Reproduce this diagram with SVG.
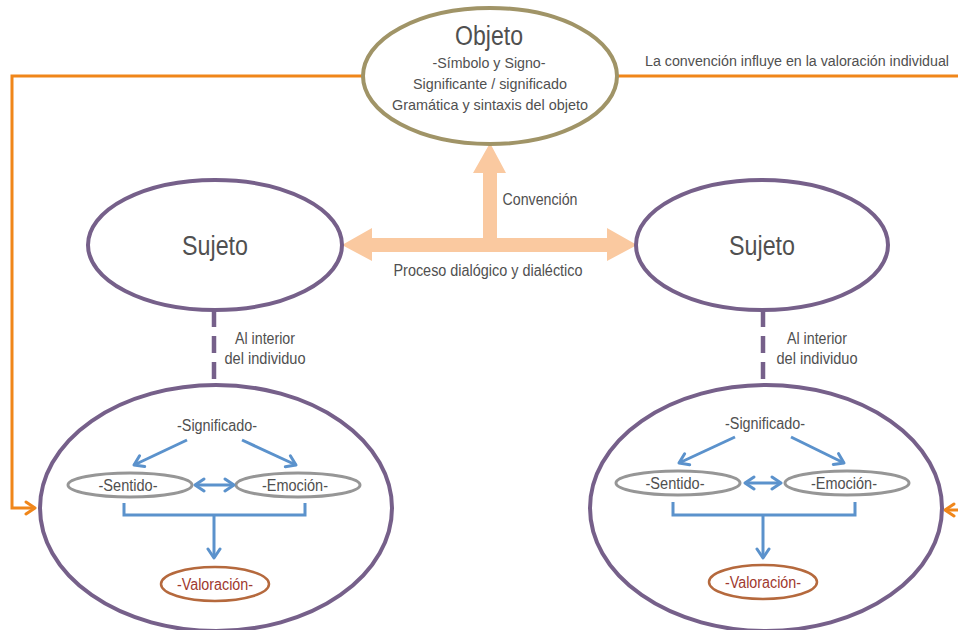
<svg xmlns="http://www.w3.org/2000/svg" width="958" height="630" viewBox="0 0 958 630">
  <style>
    text { font-family: "Liberation Sans", Arial, sans-serif; fill: #505050; text-anchor: middle; }
    .objeto { fill: #fff; stroke: #A09467; stroke-width: 4; }
    .sujeto { fill: #fff; stroke: #76608A; stroke-width: 4; }
    .sub { fill: #fff; stroke: #969696; stroke-width: 3; }
    .val { fill: #fff; stroke: #B5693D; stroke-width: 2.5; }
    .blue { fill: none; stroke: #5B92CC; stroke-width: 3; }
    .orange { fill: none; stroke: #F0861A; stroke-width: 3; }
    .dash { fill: none; stroke: #76608A; stroke-width: 4.5; stroke-dasharray: 17 9; }
    .peach { fill: #FAC9A0; }
    .t14 { font-size: 15px; }
    .t16 { font-size: 16px; }
    .big { font-size: 27px; }
  </style>
  <defs>
    <marker id="arrowBlue" markerUnits="userSpaceOnUse" markerWidth="14" markerHeight="16" refX="11" refY="8" orient="auto-start-reverse" viewBox="0 0 14 16">
      <path d="M2,2 L11,8 L2,14" fill="none" stroke="#5B92CC" stroke-width="3" stroke-linecap="round" stroke-linejoin="round"/>
    </marker>
    <marker id="arrowOrange" markerUnits="userSpaceOnUse" markerWidth="14" markerHeight="16" refX="11" refY="8" orient="auto" viewBox="0 0 14 16">
      <path d="M2,2 L11,8 L2,14" fill="none" stroke="#F0861A" stroke-width="3" stroke-linecap="round" stroke-linejoin="round"/>
    </marker>
  </defs>

  <!-- connectors -->
  <g id="connectors">
    <path class="orange" d="M362,76 H12 V508 H35" marker-end="url(#arrowOrange)"/>
    <path class="orange" d="M618,76 H960"/>
    <path class="orange" d="M960,510 H945" marker-end="url(#arrowOrange)"/>
    <polygon class="peach" points="342,245 372,228 372,238 483,238 483,173 473,173 490,143 506,173 497,173 497,238 607,238 607,228 637,245 607,261 607,252 372,252 372,261"/>
    <line class="dash" x1="214" y1="310" x2="214" y2="388"/>
    <line class="dash" x1="763" y1="310" x2="763" y2="388"/>
  </g>

  <!-- labels on connectors -->
  <text class="t16" x="540" y="205" textLength="75" lengthAdjust="spacingAndGlyphs">Convención</text>
  <text class="t16" x="488" y="276" textLength="189" lengthAdjust="spacingAndGlyphs">Proceso dialógico y dialéctico</text>
  <text x="797" y="66" font-size="14" textLength="304" lengthAdjust="spacingAndGlyphs">La convención influye en la valoración individual</text>
  <text class="t16" x="265" y="344" textLength="60" lengthAdjust="spacingAndGlyphs">Al interior</text>
  <text class="t16" x="265" y="364" textLength="81" lengthAdjust="spacingAndGlyphs">del individuo</text>
  <text class="t16" x="817" y="344" textLength="60" lengthAdjust="spacingAndGlyphs">Al interior</text>
  <text class="t16" x="817" y="364" textLength="81" lengthAdjust="spacingAndGlyphs">del individuo</text>

  <g id="objeto">
    <ellipse class="objeto" cx="490" cy="76" rx="127" ry="68"/>
    <text class="big" x="489" y="45" textLength="68" lengthAdjust="spacingAndGlyphs">Objeto</text>
    <text class="t14" x="489" y="68" textLength="113" lengthAdjust="spacingAndGlyphs">-Símbolo y Signo-</text>
    <text class="t14" x="490" y="89" textLength="154" lengthAdjust="spacingAndGlyphs">Significante / significado</text>
    <text class="t14" x="490" y="110" textLength="196" lengthAdjust="spacingAndGlyphs">Gramática y sintaxis del objeto</text>
  </g>

  <g id="sujeto-izquierdo">
    <ellipse class="sujeto" cx="215" cy="245" rx="127" ry="65"/>
    <text class="big" x="215" y="255" textLength="66" lengthAdjust="spacingAndGlyphs">Sujeto</text>
  </g>

  <g id="sujeto-derecho">
    <ellipse class="sujeto" cx="762" cy="245" rx="126" ry="65"/>
    <text class="big" x="762" y="255" textLength="66" lengthAdjust="spacingAndGlyphs">Sujeto</text>
  </g>

  <g id="individuo-izquierdo">
    <ellipse class="sujeto" cx="216" cy="508" rx="176" ry="123"/>
    <text class="t16" x="217" y="431" textLength="80" lengthAdjust="spacingAndGlyphs">-Significado-</text>
    <g id="sentido-izq">
      <ellipse class="sub" cx="130" cy="485" rx="62" ry="12"/>
      <text class="t16" x="128" y="491" textLength="59" lengthAdjust="spacingAndGlyphs">-Sentido-</text>
    </g>
    <g id="emocion-izq">
      <ellipse class="sub" cx="298" cy="485" rx="62" ry="12"/>
      <text class="t16" x="295" y="491" textLength="66" lengthAdjust="spacingAndGlyphs">-Emoción-</text>
    </g>
    <g id="valoracion-izq">
      <ellipse class="val" cx="215" cy="584" rx="54" ry="17"/>
      <text class="t16" x="215" y="590" textLength="76" lengthAdjust="spacingAndGlyphs" style="fill:#A0392E">-Valoración-</text>
    </g>
    <g class="links">
      <line class="blue" x1="187" y1="440" x2="134" y2="465" marker-end="url(#arrowBlue)"/>
      <line class="blue" x1="242" y1="440" x2="296" y2="465" marker-end="url(#arrowBlue)"/>
      <line class="blue" x1="195" y1="485" x2="234" y2="485" marker-start="url(#arrowBlue)" marker-end="url(#arrowBlue)"/>
      <path class="blue" d="M124,503 V515 H305 V503"/>
      <path class="blue" d="M214,515 V558" marker-end="url(#arrowBlue)"/>
    </g>
  </g>

  <g id="individuo-derecho">
    <ellipse class="sujeto" cx="766" cy="508" rx="176" ry="123"/>
    <text class="t16" x="765" y="429" textLength="80" lengthAdjust="spacingAndGlyphs">-Significado-</text>
    <g id="sentido-der">
      <ellipse class="sub" cx="678" cy="483" rx="62" ry="12"/>
      <text class="t16" x="675" y="489" textLength="59" lengthAdjust="spacingAndGlyphs">-Sentido-</text>
    </g>
    <g id="emocion-der">
      <ellipse class="sub" cx="847" cy="483" rx="62" ry="12"/>
      <text class="t16" x="844" y="489" textLength="66" lengthAdjust="spacingAndGlyphs">-Emoción-</text>
    </g>
    <g id="valoracion-der">
      <ellipse class="val" cx="763" cy="582" rx="54" ry="17"/>
      <text class="t16" x="763" y="588" textLength="76" lengthAdjust="spacingAndGlyphs" style="fill:#A0392E">-Valoración-</text>
    </g>
    <g class="links">
      <line class="blue" x1="735" y1="437" x2="679" y2="463" marker-end="url(#arrowBlue)"/>
      <line class="blue" x1="791" y1="437" x2="844" y2="463" marker-end="url(#arrowBlue)"/>
      <line class="blue" x1="745" y1="483" x2="781" y2="483" marker-start="url(#arrowBlue)" marker-end="url(#arrowBlue)"/>
      <path class="blue" d="M673,502 V515 H855 V502"/>
      <path class="blue" d="M763,515 V558" marker-end="url(#arrowBlue)"/>
    </g>
  </g>
</svg>
